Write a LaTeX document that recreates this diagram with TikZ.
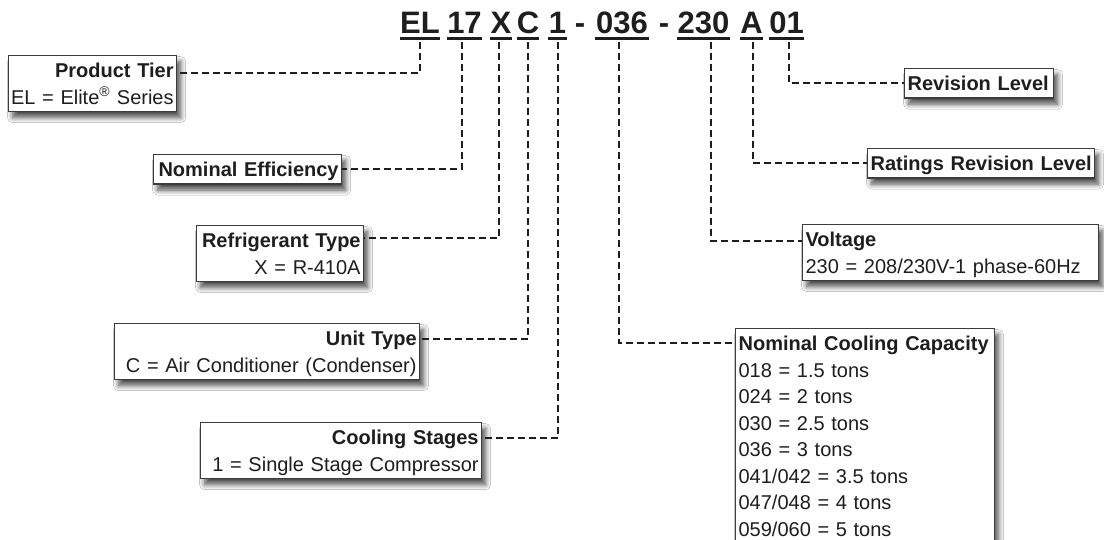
\documentclass[tikz,border=0pt]{standalone}
\usepackage{fontspec}
\setmainfont{Liberation Sans}
\usetikzlibrary{shadows.blur,calc}
\definecolor{ink}{HTML}{1E1E1E}
\definecolor{edge}{HTML}{3C3C3C}
\newcommand\ls{\rule[-6pt]{0pt}{26.5pt}}
\newcommand\lsd{\rule[-14pt]{0pt}{34.5pt}}
\newcommand\linR[1]{\makebox[\linewidth][r]{\ls #1}}
\newcommand\linL[1]{\makebox[\linewidth][l]{\ls #1}}
\tikzset{
 box/.style={draw=edge, line width=1.2pt, fill=white, anchor=north west,
   inner xsep=3pt, inner ysep=1.5pt, text=ink,
   font=\fontsize{20}{26.5}\selectfont,
   blur shadow={shadow xshift=4pt, shadow yshift=-6pt, shadow blur radius=5pt, shadow blur steps=10, shadow opacity=70}},
 lbox/.style={box, align=right},
 rbox/.style={box, align=left},
 code/.style={font=\fontsize{31}{31}\selectfont\bfseries, text=ink, inner xsep=0pt,
   inner ysep=0pt, text height=21.5pt, text depth=0pt},
 uline/.style={draw=ink, line width=2.5pt},
 conn/.style={draw=ink, line width=2pt, dash pattern=on 7pt off 4pt, shorten <=9pt},
}
\begin{document}
\begin{tikzpicture}[x=1pt,y=-1pt]
\useasboundingbox (0,0) rectangle (1104,540);
\clip (0,0) rectangle (1104,540);
\fill[white] (0,0) rectangle (1104,540);

% model code
\node[code, minimum width=34pt] (cEL) at (420,22.5) {EL};
\node[code, minimum width=35pt] (c17) at (464.5,22.5) {17};
\node[code, minimum width=20pt] (cX) at (501,22.5) {X};
\node[code, minimum width=20pt] (cC) at (528,22.5) {C};
\node[code, minimum width=19pt] (c1) at (557.5,22.5) {1};
\node[code] (d1) at (580,22.5) {-};
\node[code, minimum width=54pt] (c036) at (622,22.5) {036};
\node[code] (d2) at (664,22.5) {-};
\node[code, minimum width=53pt] (c230) at (703.5,22.5) {230};
\node[code, minimum width=21pt] (cA) at (751.5,22.5) {A};
\node[code, minimum width=33pt] (c01) at (786.5,22.5) {01};
\foreach \n in {cEL,c17,cX,cC,c1,c036,c230,cA,c01}
  \draw[uline] ([yshift=-5pt]\n.south west) -- ([yshift=-5pt]\n.south east);

% left boxes
\node[lbox, text width=162pt] (PT) at (8,55)
  {\linR{\textbf{Product Tier}}\\\linR{EL = Elite\textsuperscript{®} Series}};
\node[lbox, text width=182pt] (NE) at (153,154) {\linR{\textbf{Nominal Efficiency}}};
\node[lbox, text width=161pt] (RT) at (196,225)
  {\linR{\textbf{Refrigerant Type}}\\\linR{X = R-410A}};
\node[lbox, text width=299pt] (UT) at (114,323)
  {\linR{\textbf{Unit Type}}\\\linR{C = Air Conditioner (Condenser)}};
\node[lbox, text width=275pt] (CS) at (200,422)
  {\linR{\textbf{Cooling Stages}}\\\linR{1 = Single Stage Compressor}};

% right boxes
\node[rbox, text width=143pt] (RL) at (904,68) {\linL{\textbf{Revision Level}}};
\node[rbox, text width=221pt] (RR) at (867,148) {\linL{\textbf{Ratings Revision Level}}};
\node[rbox, text width=290pt] (VO) at (802,224)
  {\linL{\textbf{Voltage}}\\\linL{230 = 208/230V-1 phase-60Hz}};
\node[rbox, text width=253pt] (NC) at (735,328)
  {\linL{\textbf{Nominal Cooling Capacity}}\\\linL{018 = 1.5 tons}\\\linL{024 = 2 tons}\\\linL{030 = 2.5 tons}\\\linL{036 = 3 tons}\\\linL{041/042 = 3.5 tons}\\\linL{047/048 = 4 tons}\\\linL{\lsd 059/060 = 5 tons}};

% connectors
\draw[conn] (cEL.south) |- ([yshift=-18pt]PT.north east);
\draw[conn] ([xshift=-2.5pt]c17.south) |- (NE.east);
\draw[conn] ([xshift=-2pt]cX.south) |- ([yshift=-13pt]RT.north east);
\draw[conn] (cC.south) |- ([yshift=-16pt]UT.north east);
\draw[conn] ([xshift=0.5pt]c1.south) |- ([yshift=-16pt]CS.north east);
\draw[conn] ([xshift=-3pt]c036.south) |- ([yshift=-15pt]NC.north west);
\draw[conn] ([xshift=7.5pt]c230.south) |- ([yshift=-17pt]VO.north west);
\draw[conn] ([xshift=1.5pt]cA.south) |- (RR.west);
\draw[conn] ([xshift=2.5pt]c01.south) |- (RL.west);
\end{tikzpicture}
\end{document}
